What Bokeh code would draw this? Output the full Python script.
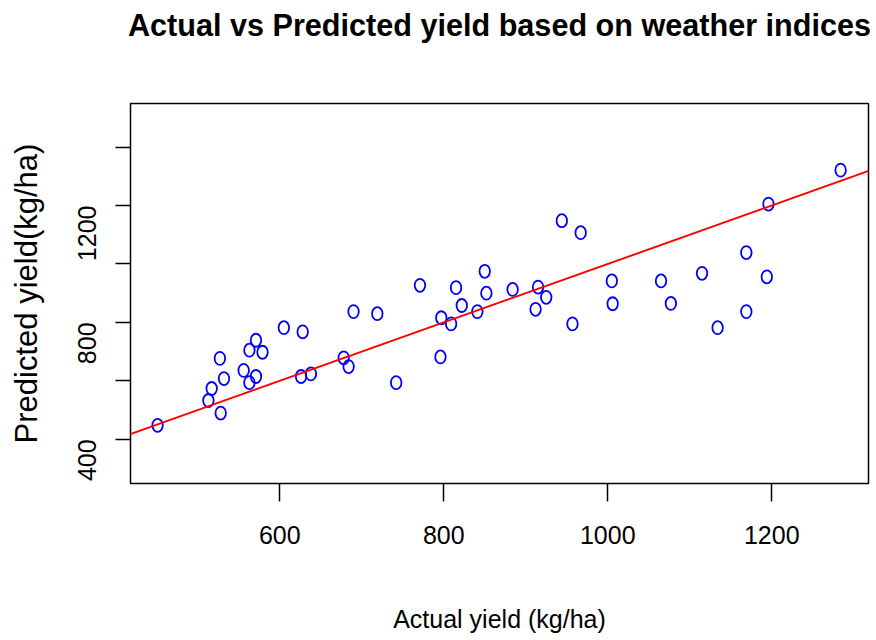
import math
from bokeh.plotting import figure
from bokeh.models import Range1d, FixedTicker, Slope, ColumnDataSource, LinearAxis, Title
from bokeh.embed import file_html
from bokeh.resources import INLINE

# ---- data ----
actual = [451, 513, 517, 528, 527, 532, 556, 563, 571, 563,
          571, 579, 605, 628, 626, 638, 678, 684, 690, 719,
          742, 771, 796, 797, 809, 815, 822, 841, 850, 852,
          884, 915, 925, 912, 957, 944, 967, 1005, 1006, 1065,
          1077, 1115, 1134, 1169, 1169, 1194, 1196, 1284]
predicted = [448, 533, 574, 490, 677, 608, 636, 594, 615, 705,
             739, 698, 782, 768, 615, 624, 679, 649, 837, 830,
             594, 927, 682, 816, 795, 919, 858, 837, 975, 900,
             913, 921, 886, 845, 795, 1148, 1107, 942, 864, 942,
             865, 968, 782, 1039, 837, 956, 1205, 1321]
x_ticks = [600, 800, 1000, 1200]
y_ticks = [400, 600, 800, 1000, 1200, 1400]
y_tick_labels = {400: "400", 600: "", 800: "800", 1000: "", 1200: "1200", 1400: ""}
line_intercept = 0
line_slope = 1

title_text = "Actual vs Predicted yield based on weather indices"
x_label = "Actual yield (kg/ha)"
y_label = "Predicted yield(kg/ha)"

src = ColumnDataSource(data=dict(x=actual, y=predicted))

p = figure(width=876, height=640, output_backend="svg", toolbar_location=None,
           x_range=Range1d(418, 1318), y_range=Range1d(249, 1549),
           min_border_left=130, min_border_right=8,
           min_border_top=103, min_border_bottom=157)
p.title = None

p.background_fill_color = "white"
p.border_fill_color = "white"
p.outline_line_color = "black"
p.outline_line_width = 1.5
p.xgrid.visible = False
p.ygrid.visible = False

# invisible spacer axis next to the frame (pushes the title to the top)
spacer = LinearAxis(ticker=FixedTicker(ticks=[800]), axis_line_color=None,
                    major_tick_in=0, major_tick_out=60,
                    major_tick_line_color=None,
                    minor_tick_in=0, minor_tick_out=0, minor_tick_line_color=None,
                    major_label_overrides={800: ""},
                    major_label_standoff=0,
                    major_label_text_font_size="1px")
p.add_layout(spacer, "above")

# title (outermost)
t = Title(text=title_text, align="center", text_font="Liberation Sans",
          text_font_style="bold", text_font_size="30.6px", text_color="black",
          standoff=4)
p.add_layout(t, "above")

# x axis
xa = p.below[0]
xa.ticker = FixedTicker(ticks=x_ticks)
xa.axis_line_color = None
xa.major_tick_in = 0
xa.major_tick_out = 18
xa.minor_tick_line_color = None
xa.major_tick_line_color = "black"
xa.major_tick_line_width = 1.5
xa.major_label_text_font = "Liberation Sans"
xa.major_label_text_font_size = "25px"
xa.major_label_text_color = "black"
xa.major_label_standoff = 24
xa.axis_label = x_label
xa.axis_label_text_font = "Liberation Sans"
xa.axis_label_text_font_size = "25px"
xa.axis_label_text_font_style = "normal"
xa.axis_label_text_color = "black"
xa.axis_label_standoff = 58

# y axis
ya = p.left[0]
ya.ticker = FixedTicker(ticks=y_ticks)
ya.major_label_overrides = y_tick_labels
ya.axis_line_color = None
ya.major_tick_in = 0
ya.major_tick_out = 15
ya.minor_tick_line_color = None
ya.major_tick_line_color = "black"
ya.major_tick_line_width = 1.5
ya.major_label_orientation = math.pi / 2
ya.major_label_text_font = "Liberation Sans"
ya.major_label_text_font_size = "25px"
ya.major_label_text_color = "black"
ya.major_label_standoff = 28
ya.axis_label = y_label
ya.axis_label_text_font = "Liberation Sans"
ya.axis_label_text_font_size = "31px"
ya.axis_label_text_font_style = "normal"
ya.axis_label_text_color = "black"
ya.axis_label_standoff = 23

# reference line
p.add_layout(Slope(gradient=line_slope, y_intercept=line_intercept,
                   line_color="red", line_width=1.9))

# points (open circles)
p.ellipse(x="x", y="y", width=10.5, height=13, width_units="screen",
          height_units="screen", source=src, fill_color=None,
          line_color="blue", line_width=1.8)

open("out.html", "w").write(file_html(p, INLINE))
